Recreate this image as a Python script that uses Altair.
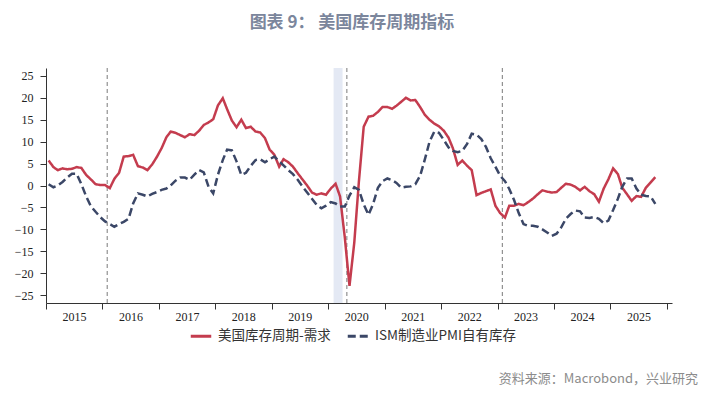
import altair as alt
import pandas as pd

# ---- data (monthly from Jan 2015) ----
red = [5.7, 4.2, 3.5, 3.9, 3.7, 3.8, 4.2, 4.0, 2.4, 1.4, 0.3, 0.1,
       0.1, -0.6, 1.5, 2.9, 6.6, 6.7, 7.0, 4.4, 4.1, 3.5, 4.8, 6.5,
       8.5, 11.0, 12.3, 12.0, 11.5, 11.0, 11.7, 11.5, 12.5, 13.8, 14.4, 15.1,
       18.3, 19.9, 17.4, 14.8, 13.3, 15.0, 13.1, 13.4, 12.3, 12.1, 10.8, 8.2,
       7.0, 4.3, 6.0, 5.3, 4.3, 2.8, 1.4, 0.0, -1.6, -2.1, -1.8, -2.1,
       -0.7, 0.4, -2.5, -12.0, -22.9, -13.0, 1.0, 13.4, 15.7, 15.9, 16.8, 17.9,
       17.9, 17.5, 18.2, 19.1, 20.0, 19.4, 19.5, 17.9, 16.1, 15.0, 14.1, 13.5,
       12.5, 10.9, 8.5, 4.7, 5.7, 4.5, 3.5, -2.2, -1.7, -1.3, -0.9, -4.6,
       -6.3, -7.3, -4.6, -4.6, -4.2, -4.5, -3.8, -3.0, -2.0, -1.1, -1.4, -1.6,
       -1.5, -0.5, 0.4, 0.2, -0.3, -1.1, -0.3, -1.3, -2.0, -3.7, -0.7, 1.4,
       3.9, 2.6, -0.5, -2.0, -3.5, -2.4, -2.6, -0.5, 0.7, 1.9]
blue = [0.3, -0.4, 0.0, 0.8, 1.8, 2.7, 2.7, 0.3, -2.5, -4.7, -6.0, -7.2,
        -8.2, -8.8, -9.4, -8.8, -8.3, -7.6, -4.1, -1.8, -2.1, -2.5, -1.9, -1.5,
        -1.0, -0.7, 0.0, 1.1, 1.8, 1.8, 1.3, 2.5, 3.5, 3.0, -0.3, -1.8,
        2.5, 5.8, 8.2, 8.0, 5.5, 2.4, 2.9, 4.5, 5.8, 6.0, 5.3, 6.0,
        6.6, 5.5, 4.6, 3.5, 2.6, 1.3, -0.2, -1.6, -3.0, -4.4, -5.2, -4.6,
        -3.8, -4.1, -4.8, -4.8, -2.3, -0.4, -1.0, -4.3, -6.7, -4.2, -0.5, 1.0,
        1.6, 1.2, 0.6, -0.5, -0.3, -0.2, 0.3, 2.2, 6.0, 10.0, 12.3, 12.0,
        10.4, 8.7, 7.9, 7.6, 7.9, 9.5, 11.8, 11.6, 10.6, 8.8, 6.2, 4.3,
        2.2, 1.0, -0.8, -3.3, -6.3, -8.8, -9.2, -9.2, -9.4, -10.0, -10.7, -11.5,
        -11.0, -9.5, -7.6, -6.5, -5.7, -5.9, -7.3, -7.4, -7.2, -7.6, -8.6, -8.0,
        -5.6, -3.0, -0.3, 1.6, 1.6, -0.7, -2.1, -2.4, -2.5, -4.2]
names = ["美国库存周期-需求", "ISM制造业PMI自有库存"]
colors = ["#C43C4E", "#3B4767"]
vlines = ["2016-02-01T00:00:00", "2020-05-01T00:00:00", "2023-02-01T00:00:00"]
band_start = ["2020-02-05T00:00:00"]
band_end = ["2020-04-03T00:00:00"]
years = list(range(2015, 2027))
title_text = "图表 9：  美国库存周期指标"
source_text = "资料来源：Macrobond，兴业研究"

dates = pd.date_range("2015-01-01", periods=len(red), freq="MS") + pd.Timedelta(days=17)
df = pd.DataFrame({
    "date": list(dates) * 2,
    "series": [names[0]] * len(red) + [names[1]] * len(blue),
    "value": red + blue,
})
df["date"] = df["date"].dt.strftime("%Y-%m-%dT%H:%M:%S")

xscale = alt.Scale(domain=[alt.DateTime(year=2015, month=1, date=1),
                           alt.DateTime(year=2026, month=2, date=3)])
yscale = alt.Scale(domain=[-26.8, 26.8], nice=False, zero=False)

serif = "Liberation Serif"
cjk = "Noto Sans CJK SC"

xaxis = alt.Axis(
    title=None,
    values=[alt.DateTime(year=y, month=1, date=1) for y in years],
    labelExpr="year(datum.value) == 2026 ? '' : timeFormat(datum.value, '%Y')",
    labelOffset=28, labelOverlap=False, labelFlush=False, labelBound=False,
    tickSize=6, labelPadding=2, grid=False,
    labelFont=serif, labelFontSize=12, labelColor="#222",
    domainColor="#333", tickColor="#333",
)
yaxis = alt.Axis(
    title=None, values=list(range(-25, 30, 5)), tickSize=6, labelPadding=7,
    grid=False, labelFont=serif, labelFontSize=12, labelColor="#222",
    domainColor="#333", tickColor="#333",
)

band = alt.Chart(pd.DataFrame({"s": band_start, "e": band_end})).mark_rect(
    color="#E4E9F4").encode(
    x=alt.X("s:T", scale=xscale, axis=xaxis), x2="e:T")

rules = alt.Chart(pd.DataFrame({"d": vlines})).mark_rule(
    color="#7A7A7A", strokeWidth=1, strokeDash=[4, 3]).encode(
    x=alt.X("d:T", scale=xscale, axis=xaxis))

legend = alt.Legend(
    title=None, orient="none", direction="horizontal", legendX=143, legendY=256,
    symbolType="stroke", symbolSize=420, symbolStrokeWidth=3,
    labelFont=cjk, labelFontSize=13.5, labelColor="#333", labelOffset=5,
    columnPadding=10,
)

lines = alt.Chart(df).mark_line(strokeWidth=2.5).encode(
    x=alt.X("date:T", scale=xscale, axis=xaxis),
    y=alt.Y("value:Q", scale=yscale, axis=yaxis),
    color=alt.Color("series:N", scale=alt.Scale(domain=names, range=colors),
                    sort=names, legend=legend),
    strokeDash=alt.StrokeDash("series:N",
                              scale=alt.Scale(domain=names, range=[[1, 0], [8, 4]]),
                              sort=names, legend=legend),
)

source = alt.Chart(pd.DataFrame({"t": [source_text]})).mark_text(
    align="right", baseline="middle", font=cjk, fontSize=13, color="#8C8C8C").encode(
    text="t:N", x=alt.value(652), y=alt.value(311))

chart = alt.layer(band, rules, lines, source).properties(
    width=626, height=235,
    padding={"left": 38, "top": 60, "right": 36, "bottom": 86},
    autosize="none",
    title=alt.Title(title_text, font=cjk, fontSize=17, fontWeight="bold",
                    color="#7B869C", anchor="middle", offset=36, dx=-7),
).configure_view(stroke=None)

chart.save("out.html", embed_options={"renderer": "svg", "actions": False})
